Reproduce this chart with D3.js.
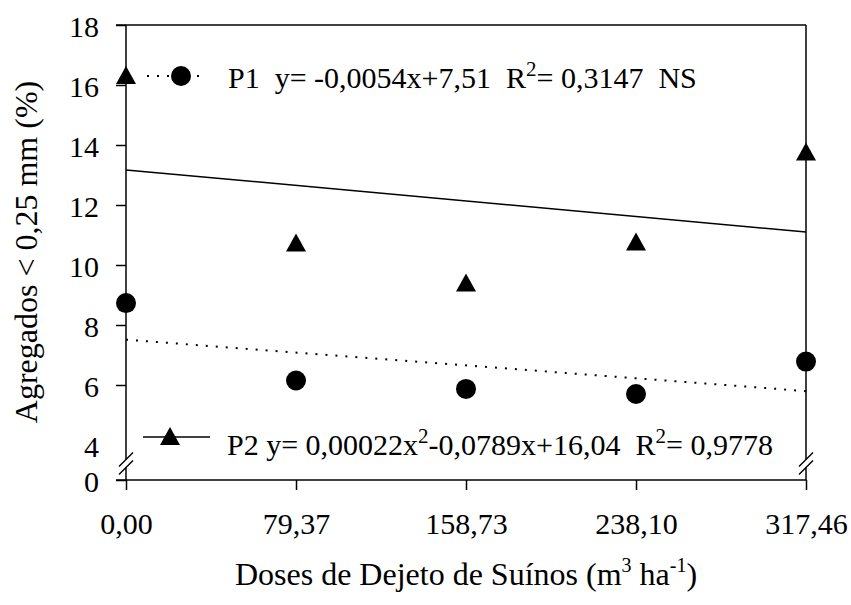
<!DOCTYPE html>
<html>
<head>
<meta charset="utf-8">
<script src="https://cdn.jsdelivr.net/npm/d3@7"></script>
<style>
  html, body { margin: 0; padding: 0; background: #fff; }
  svg text { font-family: "Liberation Serif", "Times New Roman", serif; fill: #000; }
</style>
</head>
<body>
<svg id="chart" width="851" height="605"></svg>
<script>
// Swine manure doses (m3/ha) and tick labels
const doses = [0, 79.37, 158.73, 238.10, 317.46];
const doseLabels = ["0,00", "79,37", "158,73", "238,10", "317,46"];

// Aggregates < 0.25 mm (%) per layer
const p1Values = [8.73, 6.15, 5.87, 5.70, 6.78];
const p2Values = [16.30, 10.72, 9.38, 10.75, 13.75];

// Fitted lines: [value at first dose, value at last dose]
const p1Fit = [7.51, 7.51 - 0.0054 * 317.46];
const p2Fit = [13.17, 11.10];

// Y ticks (broken axis: 0, then 4 to 18)
const yTicks = [0, 4, 6, 8, 10, 12, 14, 16, 18];

const svg = d3.select("#chart");
const plotLeft = 126, plotRight = 806, plotTop = 25, plotBottom = 480;
const serif = "Liberation Serif";

const x = d3.scaleLinear().domain([0, 317.46]).range([plotLeft, plotRight]);
const y = d3.scaleLinear().domain([0, 4, 18]).range([plotBottom, 445, plotTop]);

const axisColor = "#000";
const aw = 1.5;

// Y axis (left)
const yAxis = d3.axisLeft(y).tickValues(yTicks).tickSize(10).tickPadding(17)
  .tickFormat(d => String(d));
const gy = svg.append("g").attr("transform", `translate(${plotLeft},0)`).call(yAxis)
  .attr("font-family", serif);
gy.select(".domain").remove();
gy.selectAll(".tick line").attr("stroke", axisColor).attr("stroke-width", aw)
  .filter(d => d === 4).remove();
gy.selectAll(".tick text").attr("font-size", 30).attr("dy", "0.38em");

// X axis (bottom)
const xAxis = d3.axisBottom(x).tickValues(doses).tickSize(10).tickPadding(23)
  .tickFormat((d, i) => doseLabels[i]);
const gx = svg.append("g").attr("transform", `translate(0,${plotBottom})`).call(xAxis)
  .attr("font-family", serif);
gx.select(".domain").remove();
gx.selectAll(".tick line").attr("stroke", axisColor).attr("stroke-width", aw);
gx.selectAll(".tick text").attr("font-size", 30);

// Frame lines
const frame = svg.append("g").attr("stroke", axisColor).attr("stroke-width", aw).attr("fill", "none");
frame.append("line").attr("x1", plotLeft - 10).attr("x2", plotRight).attr("y1", plotBottom).attr("y2", plotBottom);
frame.append("line").attr("x1", plotLeft - 10).attr("x2", plotRight).attr("y1", plotTop).attr("y2", plotTop);

// Vertical axes with break between 0 and 4
const breakY = (y(0) + y(4)) / 2 + 1;
[plotLeft, plotRight].forEach(xp => {
  frame.append("line").attr("x1", xp).attr("x2", xp).attr("y1", plotTop).attr("y2", breakY - 4);
  frame.append("line").attr("x1", xp).attr("x2", xp).attr("y1", breakY + 4).attr("y2", plotBottom);
  [-4, 4].forEach(off => {
    frame.append("line")
      .attr("x1", xp - 7).attr("y1", breakY + off + 7)
      .attr("x2", xp + 7).attr("y2", breakY + off - 7);
  });
});

// Fitted lines
const fitLine = d3.line().x(d => x(d[0])).y(d => y(d[1]));
svg.append("path")
  .datum([[doses[0], p1Fit[0]], [doses[doses.length - 1], p1Fit[1]]])
  .attr("d", fitLine).attr("fill", "none").attr("stroke", "#000")
  .attr("stroke-width", 2).attr("stroke-dasharray", "2,8");
svg.append("path")
  .datum([[doses[0], p2Fit[0]], [doses[doses.length - 1], p2Fit[1]]])
  .attr("d", fitLine).attr("fill", "none").attr("stroke", "#000")
  .attr("stroke-width", 1.5);

// Markers
const tri = (cx, cy) => `M${cx},${cy - 10}L${cx + 10},${cy + 8}L${cx - 10},${cy + 8}Z`;

svg.append("g").selectAll("circle").data(doses).join("circle")
  .attr("cx", d => x(d)).attr("cy", (d, i) => y(p1Values[i])).attr("r", 10).attr("fill", "#000");
svg.append("g").selectAll("path").data(doses).join("path")
  .attr("d", (d, i) => tri(x(d), y(p2Values[i]))).attr("fill", "#000");

// Legend entries with regression equations
const leg = svg.append("g");
leg.append("line").attr("x1", 147).attr("x2", 207).attr("y1", 76).attr("y2", 76)
  .attr("stroke", "#000").attr("stroke-width", 2).attr("stroke-dasharray", "2,8");
leg.append("circle").attr("cx", 181).attr("cy", 76).attr("r", 10).attr("fill", "#000");

const t1 = leg.append("text").attr("x", 228).attr("y", 88).attr("font-size", 30)
  .style("white-space", "pre");
t1.append("tspan").text("P1  y= -0,0054x+7,51  R");
t1.append("tspan").attr("font-size", 21).attr("dy", -12).text("2");
t1.append("tspan").attr("dy", 12).text("= 0,3147  NS");

leg.append("line").attr("x1", 143).attr("x2", 210).attr("y1", 437).attr("y2", 437)
  .attr("stroke", "#000").attr("stroke-width", 1.5);
leg.append("path").attr("d", tri(170, 437)).attr("fill", "#000");

const t2 = leg.append("text").attr("x", 227).attr("y", 455).attr("font-size", 30)
  .style("white-space", "pre");
t2.append("tspan").text("P2 y= 0,00022x");
t2.append("tspan").attr("font-size", 21).attr("dy", -12).text("2");
t2.append("tspan").attr("dy", 12).text("-0,0789x+16,04  R");
t2.append("tspan").attr("font-size", 21).attr("dy", -12).text("2");
t2.append("tspan").attr("dy", 12).text("= 0,9778");

// Axis titles
const xt = svg.append("text").attr("x", 466).attr("y", 585).attr("text-anchor", "middle")
  .attr("font-size", 32);
xt.append("tspan").text("Doses de Dejeto de Suínos (m");
xt.append("tspan").attr("font-size", 20).attr("dy", -13).text("3");
xt.append("tspan").attr("dy", 13).text(" ha");
xt.append("tspan").attr("font-size", 20).attr("dy", -13).text("-1");
xt.append("tspan").attr("dy", 13).text(")");

svg.append("text").attr("transform", "translate(37,252) rotate(-90)")
  .attr("text-anchor", "middle").attr("font-size", 32)
  .text("Agregados < 0,25 mm (%)");
</script>
</body>
</html>
